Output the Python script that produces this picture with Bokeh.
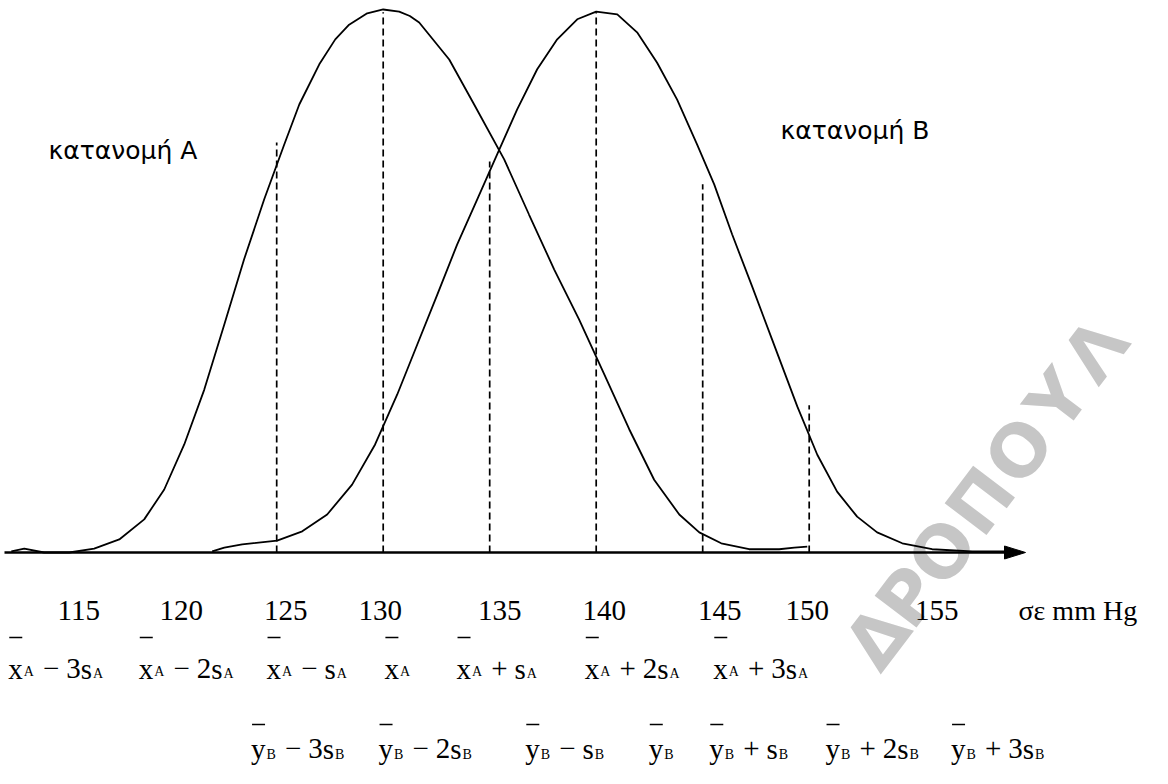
import numpy as np
from bokeh.plotting import figure
from bokeh.models import Range1d, ColumnDataSource
from bokeh.core.properties import value
from bokeh.embed import file_html
from bokeh.resources import INLINE

# ---------------- data ----------------
tick_values = [115, 120, 125, 130, 135, 140, 145, 150, 155]
dash_x = [125, 130, 135, 140, 145, 150]
dash_h = [0.755, 0.995, 0.720, 0.995, 0.678, 0.271]

curve_a_x = [112.54, 113.15, 114.08, 115.26, 116.43, 117.61, 118.78, 119.72, 120.66,
             121.60, 122.54, 123.47, 124.41, 125.35, 126.06, 127.00, 127.75, 128.40, 129.25,
             130.00, 130.75, 131.25, 131.69, 133.10, 134.27, 135.68, 136.85, 138.03, 139.20,
             140.38, 141.55, 142.72, 143.90, 144.84, 145.87, 147.18, 148.59, 149.30, 149.91]
curve_a_h = [0.002, 0.007, 0.000, 0.000, 0.007, 0.024, 0.061, 0.116, 0.199,
             0.300, 0.420, 0.540, 0.650, 0.751, 0.825, 0.899, 0.945, 0.972, 0.993,
             1.000, 0.996, 0.988, 0.976, 0.908, 0.825, 0.724, 0.622, 0.521, 0.429,
             0.328, 0.227, 0.134, 0.070, 0.037, 0.017, 0.006, 0.006, 0.009, 0.011]

curve_b_x = [121.97, 122.54, 123.38, 125.02, 126.20, 127.37, 128.54, 129.62, 130.66,
             131.60, 132.54, 133.47, 134.41, 135.35, 136.29, 137.23, 138.17, 139.11,
             140.00, 140.99, 141.92, 142.86, 143.80, 144.74, 145.54, 146.38, 147.32,
             148.26, 149.44, 150.38, 151.31, 152.25, 153.19, 154.37, 155.77, 157.65, 159.53]
curve_b_h = [0.002, 0.009, 0.015, 0.022, 0.039, 0.070, 0.125, 0.199, 0.291,
             0.383, 0.475, 0.567, 0.650, 0.733, 0.816, 0.890, 0.945, 0.982,
             0.996, 0.991, 0.958, 0.902, 0.834, 0.751, 0.678, 0.586, 0.490,
             0.392, 0.269, 0.180, 0.112, 0.066, 0.037, 0.017, 0.006, 0.002, 0.002]

row_a_values = [115, 120, 125, 130, 135, 140, 145]
row_b_values = [125, 130, 135, 140, 145, 150, 155]
row_k = [-3, -2, -1, 0, 1, 2, 3]

label_a = "κατανομή Α"
label_b = "κατανομή Β"
unit_label = "σε mm Hg"
watermark = "ΔΡΟΠΟΥΛ"

# ---------------- layout ----------------
W, H = 1152, 768
PX_MM = 21.3          # pixels per mm Hg
X0 = 112.033          # mm Hg at left edge of frame
PX_H = 543.0          # pixels per unit of height
Y1 = 1.01657          # height at top edge of frame
FONT = value("Liberation Serif, serif")
GREEK = value("DejaVu Sans")

tick_shift = [15, 11, 9, -3, 10, 8, 17, -2, 21]


def py2h(py):
    return Y1 - (py - 8) / PX_H


def px2mm(px):
    return X0 + (px - 8) / PX_MM


p = figure(width=W, height=H, output_backend="svg", toolbar_location=None,
           x_range=Range1d(X0, X0 + W / PX_MM), y_range=Range1d(Y1 - H / PX_H, Y1),
           x_axis_location=None, y_axis_location=None, min_border=0,
           outline_line_color=None, background_fill_color="white",
           border_fill_color="white")
p.grid.visible = False

# watermark (below everything): letters laid along a slanted line
ang = np.deg2rad(52.8)
ux, uy = np.cos(ang), -np.sin(ang)
adv = {'Δ': 0.612, 'Ρ': 0.556, 'Ο': 0.722, 'Π': 0.722, 'Υ': 0.722, 'Λ': 0.698}
EM_W = 88.0
ref_px, ref_py = 916.0, 604.0        # centre of the letter Ρ
ref_i = watermark.index('Ρ')
centres = np.cumsum([0.0] + [(adv[a] + adv[b]) / 2 for a, b in zip(watermark[:-1], watermark[1:])])
centres = (centres - centres[ref_i]) * EM_W
wm_x = [px2mm(ref_px + c * ux) for c in centres]
wm_y = [py2h(ref_py + c * uy) for c in centres]
p.text(x=wm_x, y=wm_y, text=list(watermark), angle=52.8, angle_units="deg",
       text_font=GREEK, text_font_size="72px", text_font_style="bold",
       text_color="#c6c6c6", text_align="center", text_baseline="middle")

# curves
p.line(curve_a_x, curve_a_h, line_color="black", line_width=1.8)
p.line(curve_b_x, curve_b_h, line_color="black", line_width=1.8)

# dashed guide lines
p.segment(x0=dash_x, y0=[0] * len(dash_x), x1=dash_x, y1=dash_h,
          line_color="black", line_width=1.7, line_dash="7 4")

# x axis with arrow
x_start, x_tip = px2mm(12), px2mm(1033)
p.line([x_start, x_tip - 10 / PX_MM], [0, 0], line_color="black", line_width=2.4)
p.patch([x_tip, x_tip - 21 / PX_MM, x_tip - 21 / PX_MM],
        [0, 6.5 / PX_H, -6.5 / PX_H], fill_color="black", line_color="black")

# tick labels
p.text(x=tick_values, y=[py2h(618)] * len(tick_values), text=[str(v) for v in tick_values],
       x_offset=tick_shift, text_font=FONT, text_font_size="29px", text_color="black",
       text_align="center", text_baseline="alphabetic")
p.text(x=[px2mm(1026)], y=[py2h(618)], text=[unit_label], text_font=FONT,
       text_font_size="28px", text_color="black", text_align="left",
       text_baseline="alphabetic")

# distribution labels
p.text(x=[px2mm(56), px2mm(788)], y=[py2h(158), py2h(138)], text=[label_a, label_b],
       text_font=GREEK, text_font_size="25px", text_color="black", text_align="left",
       text_baseline="alphabetic")

# formula rows
F, S = 29, 14
W_EM = {'x': 0.5, 'y': 0.5, 's': 0.389, 'A': 0.722, 'B': 0.667,
        '−': 0.564, '+': 0.564, '2': 0.5, '3': 0.5}


def build(letter, sub, k, dy1, dy2):
    pieces, cur = [], 0.0
    bar = cur
    pieces.append((letter, 'm', cur, 0)); cur += W_EM[letter] * F + 1
    pieces.append((sub, 's', cur, dy1)); cur += W_EM[sub] * S
    if k != 0:
        op = '−' if k < 0 else '+'
        cur += 9
        pieces.append((op, 'm', cur, 0)); cur += W_EM[op] * F + 7
        if abs(k) > 1:
            pieces.append((str(abs(k)), 'm', cur, 0)); cur += 0.5 * F
        pieces.append(('s', 'm', cur, 0)); cur += W_EM['s'] * F + 1
        pieces.append((sub, 's', cur, dy2)); cur += W_EM[sub] * S
    return pieces, bar, cur


rows = [
    dict(values=row_a_values, letter='x', sub='A', base=676, bar_up=31, dy1=3, dy2=5,
         shift=[-8, 16, 30, 14, 7, 36, 58]),
    dict(values=row_b_values, letter='y', sub='B', base=756, bar_up=24, dy1=6, dy2=6,
         shift=[21, 42, 75, 65, 46, 63, 82]),
]

main = dict(x=[], y=[], t=[], xo=[], yo=[])
subs = dict(x=[], y=[], t=[], xo=[], yo=[])
bars = dict(x0=[], x1=[], y=[])
for r in rows:
    yb = py2h(r['base'])
    for v, k, sh in zip(r['values'], row_k, r['shift']):
        pieces, bar, width = build(r['letter'], r['sub'], k, r['dy1'], r['dy2'])
        left = sh - width / 2.0
        for txt, kind, dx, dy in pieces:
            d = main if kind == 'm' else subs
            d['x'].append(v); d['y'].append(yb); d['t'].append(txt)
            d['xo'].append(left + dx); d['yo'].append(dy)
        bars['x0'].append(v + (left + bar + 1) / PX_MM)
        bars['x1'].append(v + (left + bar + 14) / PX_MM)
        bars['y'].append(yb + r['bar_up'] / PX_H)

p.text(x='x', y='y', text='t', x_offset='xo', y_offset='yo', source=ColumnDataSource(main),
       text_font=FONT, text_font_size=f"{F}px", text_color="black",
       text_align="left", text_baseline="alphabetic")
p.text(x='x', y='y', text='t', x_offset='xo', y_offset='yo', source=ColumnDataSource(subs),
       text_font=FONT, text_font_size=f"{S}px", text_color="black",
       text_align="left", text_baseline="alphabetic")
p.segment(x0='x0', y0='y', x1='x1', y1='y', source=ColumnDataSource(bars),
          line_color="black", line_width=1.5)

open("out.html", "w").write(file_html(p, INLINE))
